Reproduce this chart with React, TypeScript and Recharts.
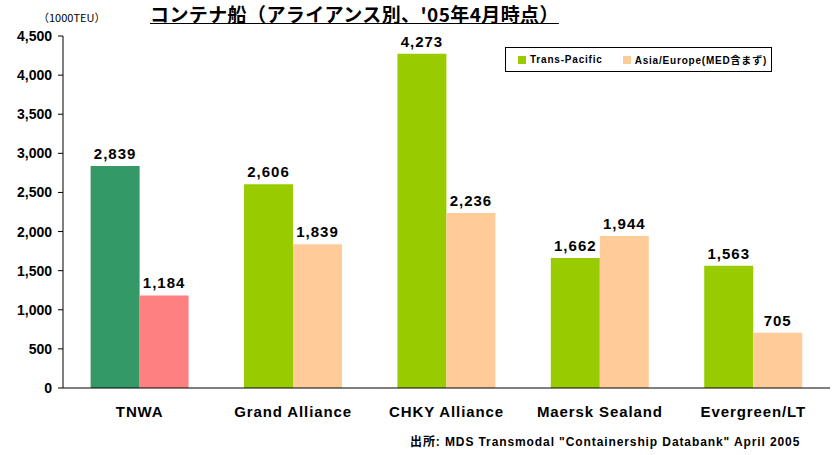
import { BarChart, Bar, XAxis, YAxis, Cell, LabelList } from "recharts";

const categories = ["TNWA", "Grand Alliance", "CHKY Alliance", "Maersk Sealand", "Evergreen/LT"];
const transPacific = [2839, 2606, 4273, 1662, 1563];
const asiaEurope = [1184, 1839, 2236, 1944, 705];
const yTicks = [0, 500, 1000, 1500, 2000, 2500, 3000, 3500, 4000, 4500];

const GREEN = "#99CC00";
const PEACH = "#FFCC99";
const TNWA_GREEN = "#339966";
const TNWA_PINK = "#FF8080";
const FONT = '"Liberation Sans", "Noto Sans CJK JP", sans-serif';
const JP = '"Noto Sans CJK JP", "Liberation Sans", sans-serif';

const data = categories.map((name, i) => ({
  name,
  tp: transPacific[i],
  ae: asiaEurope[i],
}));

const fmt = (v: any) => Number(v).toLocaleString("en-US");

function LegendBox() {
  const items = [
    { color: GREEN, label: "Trans-Pacific" },
    { color: PEACH, label: "Asia/Europe(MED含まず)" },
  ];
  return (
    <div
      style={{
        position: "absolute",
        left: 505,
        top: 47,
        width: 267,
        height: 25,
        border: "1px solid #000",
        background: "#fff",
        display: "flex",
        alignItems: "center",
        gap: 20,
        paddingLeft: 12,
        boxSizing: "border-box",
      }}
    >
      {items.map(({ color, label }) => (
        <div key={label} style={{ display: "flex", alignItems: "center", gap: 4 }}>
          <div style={{ width: 8, height: 8, background: color }} />
          <span style={{ fontSize: 10, fontWeight: 700, fontFamily: FONT, color: "#000", letterSpacing: 0.8 }}>
            {label}
          </span>
        </div>
      ))}
    </div>
  );
}

export default function App() {
  return (
    <div style={{ position: "absolute", left: 0, top: 0, width: 837, height: 455, background: "#fff" }}>
      <BarChart
        width={837}
        height={455}
        data={data}
        margin={{ top: 36, right: 7, bottom: 37, left: 0 }}
        barCategoryGap="18%"
        barGap={0}
      >
        <XAxis
          dataKey="name"
          axisLine={{ stroke: "#000" }}
          tickLine={false}
          tickMargin={12}
          tick={{ fontSize: 15, fontWeight: 700, fill: "#000", fontFamily: FONT, letterSpacing: 0.9 }}
          height={30}
        />
        <YAxis
          domain={[0, 4500]}
          ticks={yTicks}
          width={63}
          axisLine={{ stroke: "#000" }}
          tickLine={{ stroke: "#000" }}
          tickSize={5}
          tickMargin={6}
          tickFormatter={fmt}
          tick={{ fontSize: 14, fontWeight: 700, fill: "#000", fontFamily: FONT }}
          interval={0}
        />
        <Bar dataKey="tp" name="Trans-Pacific" fill={GREEN} isAnimationActive={false}>
          {data.map((d, i) => (
            <Cell key={d.name} fill={i === 0 ? TNWA_GREEN : GREEN} />
          ))}
          <LabelList
            dataKey="tp"
            position="top"
            offset={7}
            formatter={fmt}
            style={{ fontSize: 15, fontWeight: 700, fill: "#000", fontFamily: FONT, letterSpacing: 1 }}
          />
        </Bar>
        <Bar dataKey="ae" name="Asia/Europe(MED含まず)" fill={PEACH} isAnimationActive={false}>
          {data.map((d, i) => (
            <Cell key={d.name} fill={i === 0 ? TNWA_PINK : PEACH} />
          ))}
          <LabelList
            dataKey="ae"
            position="top"
            offset={7}
            formatter={fmt}
            style={{ fontSize: 15, fontWeight: 700, fill: "#000", fontFamily: FONT, letterSpacing: 1 }}
          />
        </Bar>
      </BarChart>
      <LegendBox />
      <div
        style={{
          position: "absolute",
          left: 150,
          top: 2,
          fontSize: 19,
          fontWeight: 700,
          fontFamily: JP,
          textDecoration: "underline",
          whiteSpace: "nowrap",
          lineHeight: "24px",
          color: "#000",
          letterSpacing: 0.4,
        }}
      >
        コンテナ船（アライアンス別、'05年4月時点）
      </div>
      <div
        style={{
          position: "absolute",
          left: 38,
          top: 9,
          fontSize: 11,
          fontFamily: JP,
          whiteSpace: "nowrap",
          color: "#000",
        }}
      >
        （1000TEU）
      </div>
      <div
        style={{
          position: "absolute",
          left: 410,
          top: 432,
          fontSize: 12,
          fontWeight: 700,
          fontFamily: FONT,
          whiteSpace: "nowrap",
          color: "#000",
          letterSpacing: 0.9,
        }}
      >
        出所: MDS Transmodal "Containership Databank" April 2005
      </div>
    </div>
  );
}
